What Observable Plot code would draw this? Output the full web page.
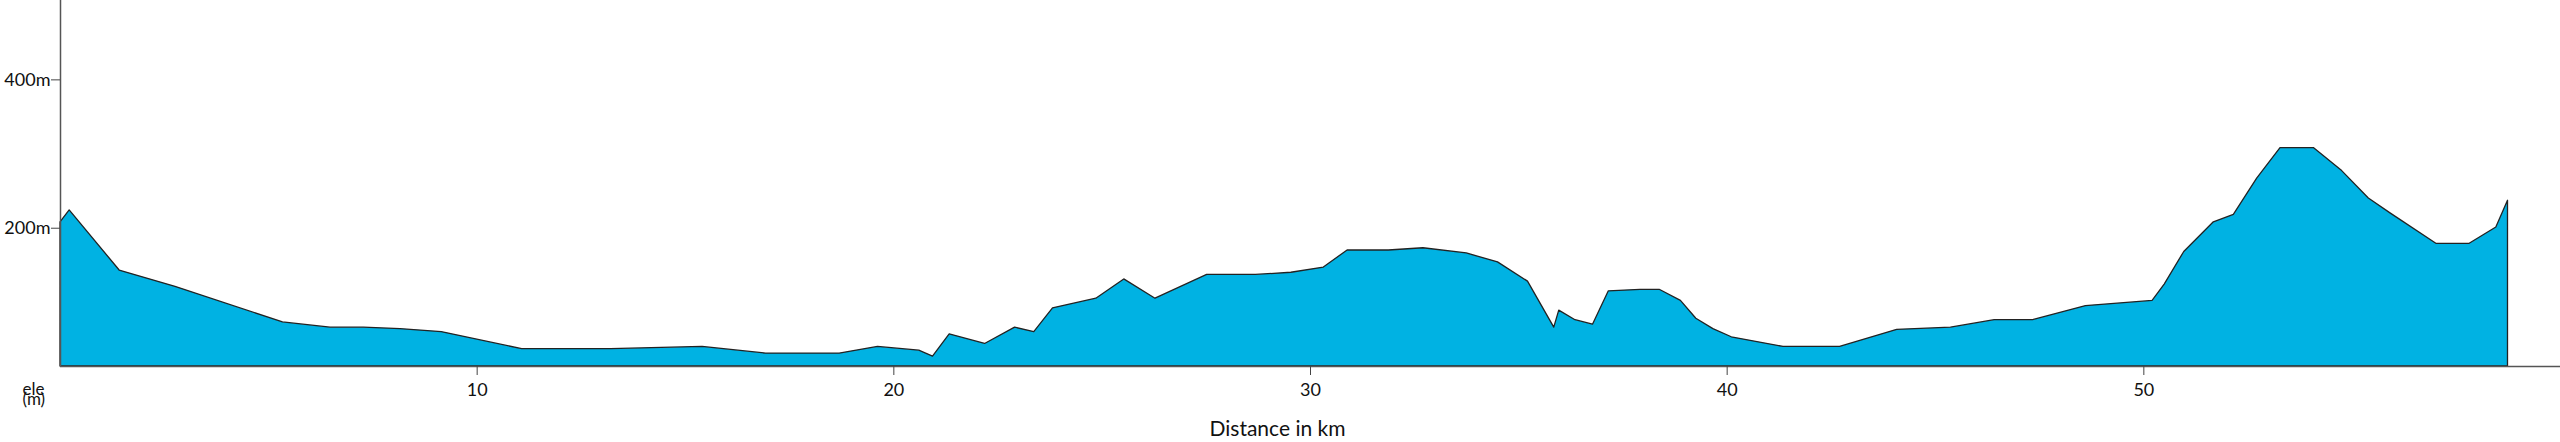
<!DOCTYPE html>
<html>
<head>
<meta charset="utf-8">
<script src="https://cdn.jsdelivr.net/npm/d3@7"></script>
<script src="https://cdn.jsdelivr.net/npm/@observablehq/plot@0.6"></script>
<style>
  html, body { margin: 0; padding: 0; background: #fff; }
  svg { display: block; }
</style>
</head>
<body>
<script>
// Distance along the route (km)
const distanceKm = [
  0, 0.22, 1.42, 2.76, 5.34, 6.48, 7.28, 8.16, 9.15, 11.08,
  13.21, 15.41, 16.93, 18.70, 19.62, 20.61, 20.94, 21.34, 22.19, 22.91,
  23.37, 23.82, 24.86, 25.53, 26.28, 27.52, 28.69, 29.54, 30.32, 30.89,
  31.88, 32.71, 33.75, 34.50, 35.22, 35.85, 35.97, 36.36, 36.78, 37.16,
  37.92, 38.38, 38.89, 39.26, 39.67, 40.11, 41.35, 42.71, 44.08, 45.37,
  46.42, 47.34, 48.61, 50.21, 50.50, 50.97, 51.68, 52.16, 52.72, 53.28,
  54.08, 54.76, 55.40, 55.92, 57.02, 57.82, 58.46, 58.74
];
// Elevation (m)
const elevationM = [
  208, 224, 143, 121, 73, 66, 66, 64, 60, 37,
  37, 40, 31, 31, 40, 35, 27, 57, 44, 66,
  60, 92, 105, 131, 105, 137, 137, 140, 147, 170,
  170, 173, 166, 154, 128, 66, 89, 76, 70, 115,
  117, 117, 102, 78, 64, 53, 40, 40, 63, 66,
  76, 76, 95, 102, 124, 168, 208, 218, 267, 308,
  308, 277, 240, 220, 179, 179, 201, 237
];
const xTicks = [10, 20, 30, 40, 50];
const yTicks = [200, 400];
const xDomain = [0, 60];
const yDomain = [13.6, 507];

const data = distanceKm.map((d, i) => ({km: d, ele: elevationM[i]}));

const chart = Plot.plot({
  width: 2560,
  height: 442,
  marginLeft: 60,
  marginRight: 0,
  marginTop: 0,
  marginBottom: 76,
  style: {fontFamily: "Lato, 'Open Sans', sans-serif", fontSize: "18px", color: "#111", background: "#fff"},
  x: {domain: xDomain},
  y: {domain: yDomain},
  marks: [
    Plot.areaY(data, {x: "km", y1: yDomain[0], y2: "ele", fill: "#00b2e3", stroke: "#222", strokeWidth: 1.3}),
    Plot.ruleY([yDomain[0]], {stroke: "#555", strokeWidth: 1.5}),
    Plot.ruleX([xDomain[0]], {stroke: "#555", strokeWidth: 1.5}),
    Plot.axisX({ticks: xTicks, tickSize: 9, tickPadding: 8, label: null, stroke: "#444"}),
    Plot.axisY({ticks: yTicks, tickSize: 9, tickPadding: 1, label: null, tickFormat: d => d + "m", stroke: "#444"}),
    Plot.text(["Distance in km"], {frameAnchor: "bottom", dx: -33, dy: 69, fontSize: 21, fill: "#111"}),
    Plot.text(["ele\n(m)"], {frameAnchor: "bottom-left", dx: -38, dy: 38, fontSize: 17, lineHeight: 0.58, fill: "#111"})
  ]
});
document.body.appendChild(chart);
</script>
</body>
</html>
